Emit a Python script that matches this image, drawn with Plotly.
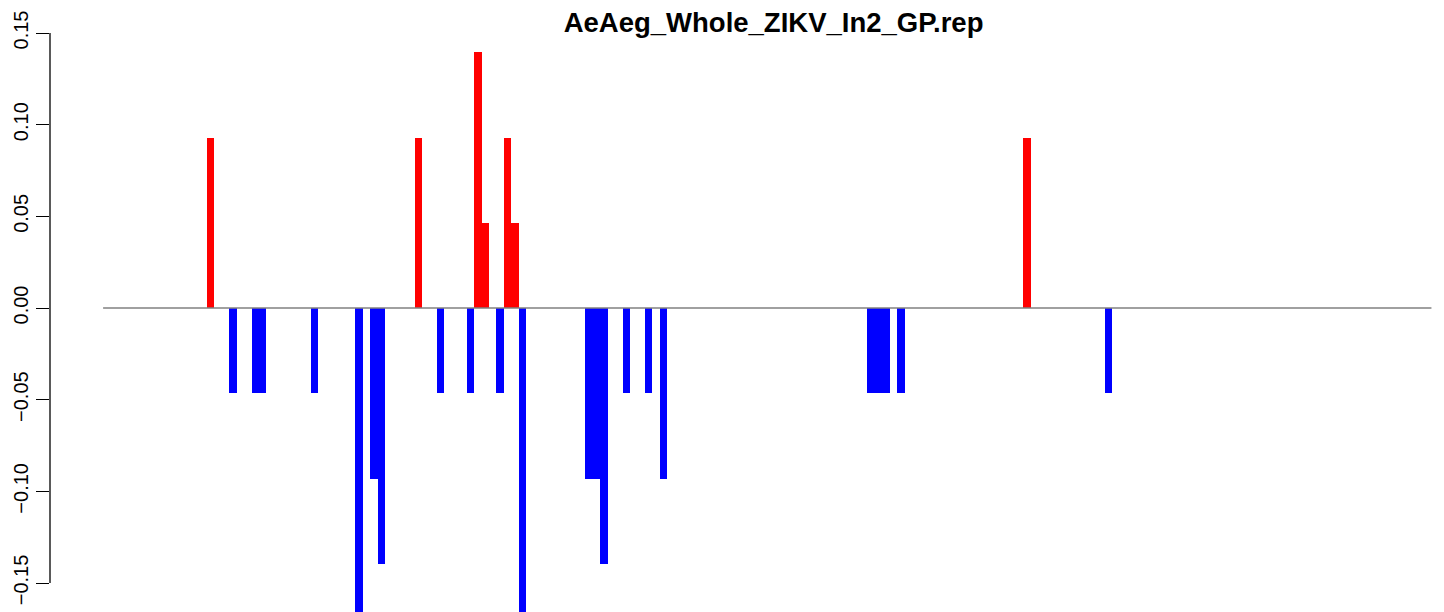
#!/usr/bin/env python3
"""Signed per-position bar profile for AeAeg_Whole_ZIKV_In2_GP.rep."""
import plotly.graph_objects as go

TITLE = "AeAeg_Whole_ZIKV_In2_GP.rep"

# total number of slots along the sequence (zero line spans all of them)
n_slots = 179

# slot index and signed value of each non-zero bar
positions = [14, 17, 20, 21, 28, 34, 36, 37, 42, 45, 49, 50, 51, 53, 54, 55,
             56, 65, 66, 67, 70, 73, 75, 103, 104, 105, 107, 124, 135]
values = [0.0930, -0.0465, -0.0465, -0.0465, -0.0465, -0.1860, -0.0930, -0.1395,
          0.0930, -0.0465, -0.0465, 0.1395, 0.0465, -0.0465, 0.0930, 0.0465,
          -0.1860, -0.0930, -0.0930, -0.1395, -0.0465, -0.0465, -0.0930,
          -0.0465, -0.0465, -0.0465, -0.0465, 0.0930, -0.0465]

y_ticks = [-0.15, -0.10, -0.05, 0.00, 0.05, 0.10, 0.15]

FONT = "Liberation Sans, Arial, Helvetica, sans-serif"

colors = ["#ff0000" if v > 0 else "#0000ff" for v in values]

fig = go.Figure()
fig.add_trace(go.Scatter(
    x=[-0.5, n_slots - 0.5], y=[0, 0], mode="lines",
    line=dict(color="#808080", width=1.5), hoverinfo="skip", showlegend=False,
))
fig.add_trace(go.Bar(
    x=positions, y=values, width=1.0,
    marker=dict(color=colors, line=dict(width=0)),
    showlegend=False,
))

# R-style axis line: only between the outer ticks
fig.add_shape(type="line", xref="paper", yref="y", x0=0, x1=0,
              y0=min(y_ticks), y1=max(y_ticks),
              line=dict(color="black", width=1.3))

# the page body adds an 8px offset, so the plot area is shifted up/left by 8px
fig.update_layout(
    width=1444, height=612,
    margin=dict(l=42, r=0, t=0, b=0, autoexpand=False),
    paper_bgcolor="white", plot_bgcolor="white",
    bargap=0,
    title=dict(text=TITLE, x=0.5161, xanchor="center", xref="paper",
               y=0.977, yanchor="middle", yref="container",
               font=dict(family=FONT, size=27.5, color="black", weight="bold")),
    font=dict(family=FONT, color="black"),
)
fig.update_xaxes(range=[-7.655, 181.27], visible=False, showgrid=False,
                 zeroline=False, automargin=False)
fig.update_yaxes(
    range=[-0.17018, 0.16364], showgrid=False, zeroline=False, showline=False,
    automargin=False,
    tickvals=y_ticks, tickformat=".2f", tickangle=-90,
    ticks="outside", ticklen=13, tickwidth=1.3, tickcolor="black",
    ticklabelstandoff=0,
    tickfont=dict(family=FONT, size=20, color="black"),
)

fig.write_html("out.html")
